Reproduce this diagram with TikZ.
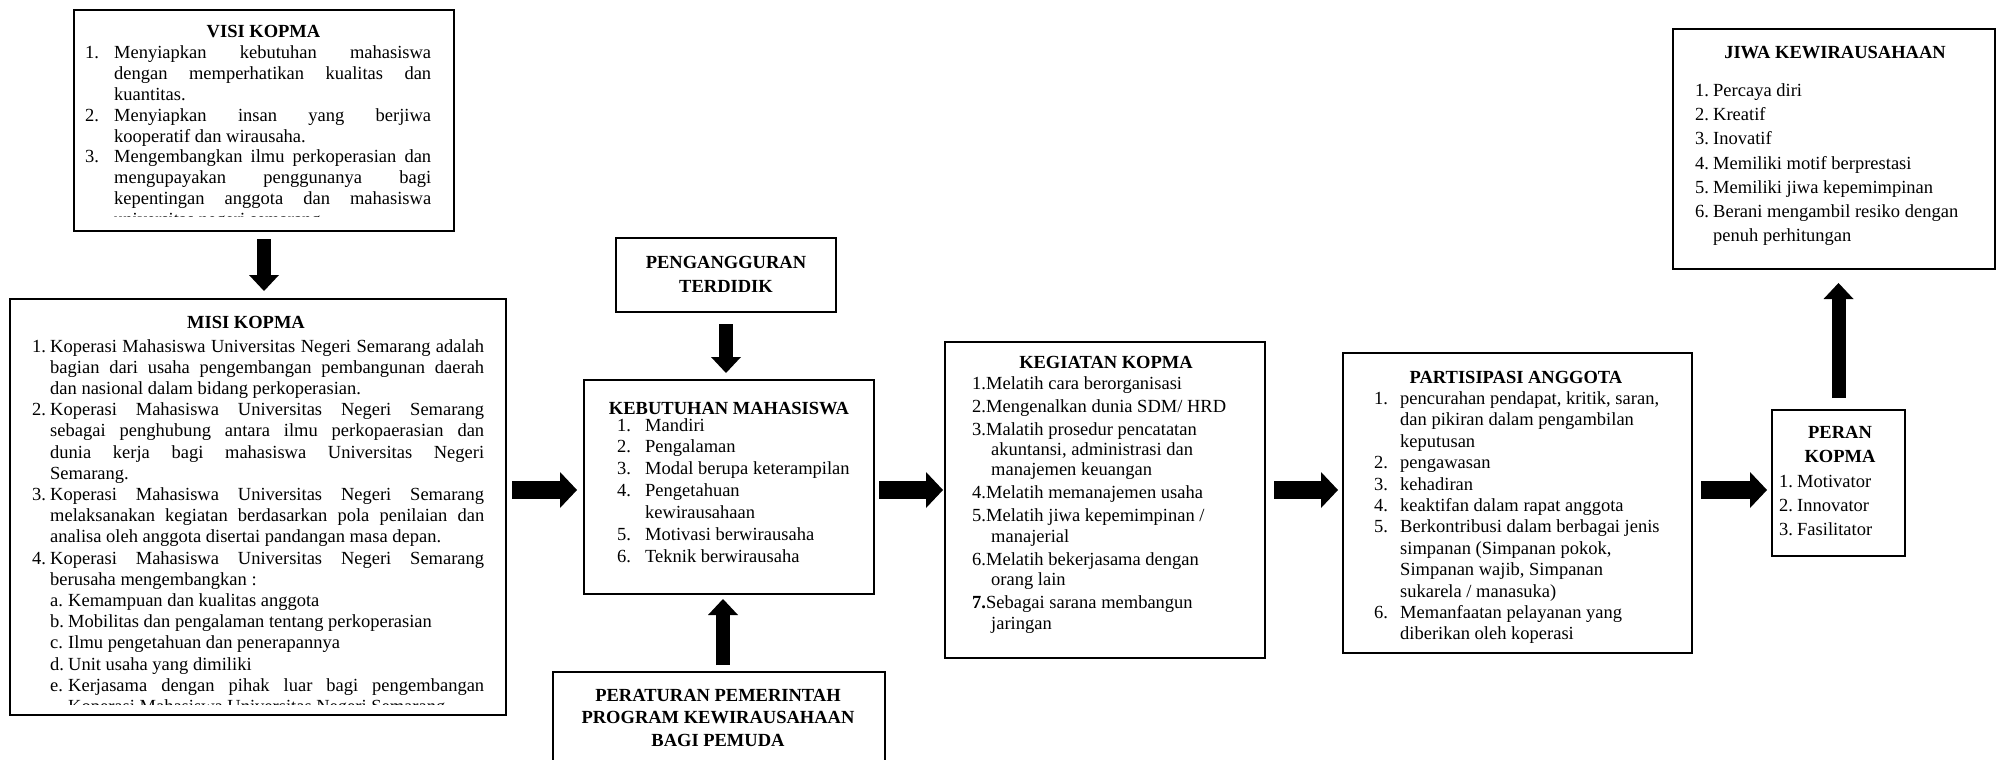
\documentclass[tikz,border=0pt]{standalone}
\usepackage{fontspec}
\setmainfont{Liberation Serif}
\usetikzlibrary{arrows.meta}
\newcommand\itm[4]{\par\noindent\hangindent=#2\relax\hangafter=1\relax\makebox[#1][l]{#3}#4}
\newcommand\sitm[2]{\par\noindent\hangindent=36pt\relax\hangafter=1\relax\hspace*{18pt}\makebox[18pt][l]{#1}#2}
\newcommand\boxfont[1]{\fontsize{18.5pt}{#1}\selectfont\parskip=0pt\parindent=0pt\tolerance=10000\hyphenpenalty=10000\exhyphenpenalty=10000\frenchspacing}
\tikzset{
  box/.style={draw=black, line width=2.7pt, anchor=north west, inner sep=0pt, outer sep=0pt},
  ttl/.style={anchor=base, inner sep=0pt, font=\fontsize{18.5pt}{21pt}\selectfont\bfseries},
  txt/.style={anchor=base west, inner sep=0pt},
  harrow/.style={line width=18pt, -{Triangle[length=17pt,width=36pt,line width=0pt]}},
  varrow/.style={line width=14pt, -{Triangle[length=16pt,width=30pt,line width=0pt]}}
}
\begin{document}
\begin{tikzpicture}[x=1pt,y=-1pt]
\useasboundingbox (0,0) rectangle (1998,760);
\coordinate (arow) at (0,490);
% boxes
\node[box, minimum width=380pt, minimum height=221pt] (visi) at (74,10) {};
\node[box, minimum width=496pt, minimum height=416pt] (misi) at (10,299) {};
\node[box, minimum width=220pt, minimum height=74pt] (peng) at (616,238) {};
\node[box, minimum width=290pt, minimum height=214pt] (kebut) at (584,380) {};
\node[box, minimum width=332pt, minimum height=118pt] (perat) at (553,672) {};
\node[box, minimum width=320pt, minimum height=316pt] (keg) at (945,342) {};
\node[box, minimum width=349pt, minimum height=300pt] (part) at (1343,353) {};
\node[box, minimum width=133pt, minimum height=146pt] (peran) at (1772,410) {};
\node[box, minimum width=322pt, minimum height=240pt] (jiwa) at (1673,29) {};
% VISI
\node[ttl] (visit) at (263.5,38) {VISI KOPMA};
\begin{scope}
\clip (76,12) rectangle (452,216);
\node[txt] (visitxt) at (85,59) {\parbox[t]{346pt}{\boxfont{20.8pt}%
\itm{29pt}{29pt}{1.}{Menyiapkan kebutuhan mahasiswa\linebreak dengan memperhatikan kualitas dan\linebreak kuantitas.}
\itm{29pt}{29pt}{2.}{Menyiapkan insan yang berjiwa\linebreak kooperatif dan wirausaha.}
\itm{29pt}{29pt}{3.}{Mengembangkan ilmu perkoperasian dan\linebreak mengupayakan penggunanya bagi\linebreak kepentingan anggota dan mahasiswa\linebreak universitas negeri semarang.}}};
\end{scope}
% MISI
\node[ttl] (misit) at (246,328) {MISI KOPMA};
\begin{scope}
\clip (12,301) rectangle (504,704);
\node[txt] (misitxt) at (32,352) {\parbox[t]{452pt}{\boxfont{21.2pt}%
\itm{18pt}{18pt}{1.}{Koperasi Mahasiswa Universitas Negeri Semarang adalah\linebreak bagian dari usaha pengembangan pembangunan daerah\linebreak dan nasional dalam bidang perkoperasian.}
\itm{18pt}{18pt}{2.}{Koperasi Mahasiswa Universitas Negeri Semarang\linebreak sebagai penghubung antara ilmu perkopaerasian dan\linebreak dunia kerja bagi mahasiswa Universitas Negeri\linebreak Semarang.}
\itm{18pt}{18pt}{3.}{Koperasi Mahasiswa Universitas Negeri Semarang\linebreak melaksanakan kegiatan berdasarkan pola penilaian dan\linebreak analisa oleh anggota disertai pandangan masa depan.}
\itm{18pt}{18pt}{4.}{Koperasi Mahasiswa Universitas Negeri Semarang\linebreak berusaha mengembangkan :}
\sitm{a.}{Kemampuan dan kualitas anggota}
\sitm{b.}{Mobilitas dan pengalaman tentang perkoperasian}
\sitm{c.}{Ilmu pengetahuan dan penerapannya}
\sitm{d.}{Unit usaha yang dimiliki}
\sitm{e.}{Kerjasama dengan pihak luar bagi pengembangan\linebreak Koperasi Mahasiswa Universitas Negeri Semarang.}}};
\end{scope}
% PENGANGGURAN
\node[anchor=base, inner sep=0pt] (pengt) at (726,268) {\parbox[t]{216pt}{\boxfont{24pt}\centering\bfseries PENGANGGURAN\\TERDIDIK}};
% KEBUTUHAN
\node[ttl] (kebutt) at (729,414) {KEBUTUHAN MAHASISWA};
\node[txt] (kebuttxt) at (617,431) {\parbox[t]{250pt}{\boxfont{21.9pt}\raggedright
\itm{28pt}{28pt}{1.}{Mandiri}
\itm{28pt}{28pt}{2.}{Pengalaman}
\itm{28pt}{28pt}{3.}{Modal berupa keterampilan}
\itm{28pt}{28pt}{4.}{Pengetahuan\newline kewirausahaan}
\itm{28pt}{28pt}{5.}{Motivasi berwirausaha}
\itm{28pt}{28pt}{6.}{Teknik berwirausaha}}};
% PERATURAN
\node[anchor=base, inner sep=0pt] (peratt) at (718,701) {\parbox[t]{330pt}{\boxfont{22.5pt}\centering\bfseries PERATURAN PEMERINTAH\\PROGRAM KEWIRAUSAHAAN\\BAGI PEMUDA}};
% KEGIATAN
\node[ttl] (kegt) at (1106,368) {KEGIATAN KOPMA};
\node[txt] (kegtxt) at (972,389) {\parbox[t]{285pt}{\boxfont{20.4pt}\raggedright\parskip=2.6pt
\itm{14pt}{19pt}{1.}{Melatih cara berorganisasi}
\itm{14pt}{19pt}{2.}{Mengenalkan dunia SDM/ HRD}
\itm{14pt}{19pt}{3.}{Malatih prosedur pencatatan\newline akuntansi, administrasi dan\newline manajemen keuangan}
\itm{14pt}{19pt}{4.}{Melatih memanajemen usaha}
\itm{14pt}{19pt}{5.}{Melatih jiwa kepemimpinan /\newline manajerial}
\itm{14pt}{19pt}{6.}{Melatih bekerjasama dengan\newline orang lain}
\itm{14pt}{19pt}{\textbf{7.}}{Sebagai sarana membangun\newline jaringan}}};
% PARTISIPASI
\node[ttl] (partt) at (1516,383) {PARTISIPASI ANGGOTA};
\node[txt] (parttxt) at (1374,404.5) {\parbox[t]{305pt}{\boxfont{21.4pt}\raggedright
\itm{26pt}{26pt}{1.}{pencurahan pendapat, kritik, saran,\newline dan pikiran dalam pengambilan\newline keputusan}
\itm{26pt}{26pt}{2.}{pengawasan}
\itm{26pt}{26pt}{3.}{kehadiran}
\itm{26pt}{26pt}{4.}{keaktifan dalam rapat anggota}
\itm{26pt}{26pt}{5.}{Berkontribusi dalam berbagai jenis\newline simpanan (Simpanan pokok,\newline Simpanan wajib, Simpanan\newline sukarela / manasuka)}
\itm{26pt}{26pt}{6.}{Memanfaatan pelayanan yang\newline diberikan oleh koperasi}}};
% PERAN
\node[anchor=base, inner sep=0pt] (perant) at (1840,438) {\parbox[t]{130pt}{\boxfont{24pt}\centering\bfseries PERAN\\KOPMA}};
\node[txt] (perantxt) at (1779,487.5) {\parbox[t]{120pt}{\boxfont{24pt}\raggedright
\itm{18pt}{18pt}{1.}{Motivator}
\itm{18pt}{18pt}{2.}{Innovator}
\itm{18pt}{18pt}{3.}{Fasilitator}}};
% JIWA
\node[ttl] (jiwat) at (1835,58.5) {JIWA KEWIRAUSAHAAN};
\node[txt] (jiwatxt) at (1695,96.5) {\parbox[t]{290pt}{\boxfont{24.2pt}\raggedright
\itm{18pt}{18pt}{1.}{Percaya diri}
\itm{18pt}{18pt}{2.}{Kreatif}
\itm{18pt}{18pt}{3.}{Inovatif}
\itm{18pt}{18pt}{4.}{Memiliki motif berprestasi}
\itm{18pt}{18pt}{5.}{Memiliki jiwa kepemimpinan}
\itm{18pt}{18pt}{6.}{Berani mengambil resiko dengan\newline penuh perhitungan}}};
% arrows
\draw[varrow, shorten <=8pt, shorten >=8pt] (visi.south) -- (visi.south |- misi.north);
\draw[varrow, shorten <=12pt, shorten >=7pt] (peng.south) -- (peng.south |- kebut.north);
\draw[varrow, shorten <=7pt, shorten >=5pt] ([xshift=4pt]perat.north) -- ([xshift=4pt]perat.north |- kebut.south);
\draw[varrow, shorten <=12pt, shorten >=14pt] (peran.north) -- (peran.north |- jiwa.south);
\draw[harrow, shorten <=6pt, shorten >=7pt] (misi.east |- arow) -- (kebut.west |- arow);
\draw[harrow, shorten <=5pt, shorten >=2pt] (kebut.east |- arow) -- (keg.west |- arow);
\draw[harrow, shorten <=9pt, shorten >=5pt] (keg.east |- arow) -- (part.west |- arow);
\draw[harrow, shorten <=9pt, shorten >=5pt] (part.east |- arow) -- (peran.west |- arow);
\end{tikzpicture}
\end{document}
